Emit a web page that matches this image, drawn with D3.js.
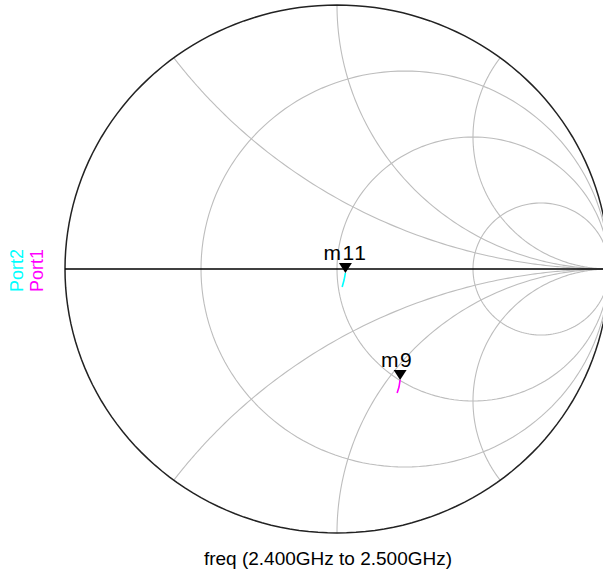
<!DOCTYPE html>
<html>
<head>
<meta charset="utf-8">
<script src="https://cdn.jsdelivr.net/npm/d3@7"></script>
<style>
  body { margin: 0; background: #fff; }
  text { font-family: "Liberation Sans", Arial, sans-serif; }
</style>
</head>
<body>
<script>
// sweep and reflection coefficient
var freqGHz = [2.40, 2.45, 2.50];
var port1Re = [0.232, 0.228, 0.221];
var port1Im = [-0.420, -0.447, -0.470];
var port2Re = [0.031, 0.026, 0.019];
var port2Im = [-0.015, -0.042, -0.068];

// smith grid values
var rGrid = [1 / 3, 1, 3];
var xGrid = [0.5, 1, 2, -0.5, -1, -2];

var markerNames = ["m9", "m11"];
var markerIndex = [0, 0];
var sweepLabel = "freq (2.400GHz to 2.500GHz)";

var w = 603, h = 569;
var cx = 337, cy = 269, rx = 272, ry = 264;

var x = d3.scaleLinear().domain([-1, 1]).range([cx - rx, cx + rx]);
var y = d3.scaleLinear().domain([-1, 1]).range([cy + ry, cy - ry]);

var svg = d3.select("body").append("svg").attr("width", w).attr("height", h);

var line = d3.line().x(function(d){ return x(d[0]); }).y(function(d){ return y(d[1]); });

// gamma from normalized impedance
function gamma(r, xi) {
  var a = r - 1, b = xi, c = r + 1, d = xi;
  var den = c * c + d * d;
  return [(a * c + b * d) / den, (b * c - a * d) / den];
}

var grid = svg.append("g").attr("fill", "none").attr("stroke", "#bdbdbd").attr("stroke-width", 1.1);

// resistance circles
rGrid.forEach(function(r){
  var c0 = r / (1 + r), rad = 1 / (1 + r);
  var pts = d3.range(0, 361, 2).map(function(a){
    var t = a * Math.PI / 180;
    return [c0 + rad * Math.cos(t), rad * Math.sin(t)];
  });
  grid.append("path").attr("d", line(pts));
});

// reactance arcs
xGrid.forEach(function(xi){
  var rs = [0].concat(d3.range(-3, 3.01, 0.02).map(function(e){ return Math.pow(10, e); }));
  var pts = rs.map(function(r){ return gamma(r, xi); });
  grid.append("path").attr("d", line(pts));
});

// outer circle
var outer = d3.range(0, 361, 2).map(function(a){
  var t = a * Math.PI / 180;
  return [Math.cos(t), Math.sin(t)];
});
svg.append("path").attr("d", line(outer))
  .attr("fill", "none").attr("stroke", "#222").attr("stroke-width", 1.5);

// real axis
svg.append("line")
  .attr("x1", x(-1)).attr("x2", x(1))
  .attr("y1", y(0)).attr("y2", y(0))
  .attr("stroke", "#000").attr("stroke-width", 1.5);

// traces
var port1 = port1Re.map(function(d, i){ return [d, port1Im[i]]; });
var port2 = port2Re.map(function(d, i){ return [d, port2Im[i]]; });
var traces = [port1, port2];
var colors = ["#ff00ff", "#00ffff"];

traces.forEach(function(t, i){
  svg.append("path").attr("d", line(t))
    .attr("fill", "none").attr("stroke", colors[i]).attr("stroke-width", 1.6);
});

// markers
var labelDx = [-3, 0];
traces.forEach(function(t, i){
  var p = t[markerIndex[i]];
  var px = x(p[0]), py = y(p[1]);
  svg.append("path")
    .attr("d", "M" + px + "," + py + "L" + (px - 6.5) + "," + (py - 10) + "L" + (px + 6.5) + "," + (py - 10) + "Z")
    .attr("fill", "#000");
  svg.append("text")
    .attr("x", px + labelDx[i]).attr("y", py - 13)
    .attr("text-anchor", "middle")
    .attr("font-size", 21).attr("letter-spacing", 1.5)
    .attr("fill", "#000")
    .text(markerNames[i]);
});

// port legend
var legendNames = ["Port2", "Port1"];
var legendColors = ["#00ffff", "#ff00ff"];
legendNames.forEach(function(n, i){
  svg.append("text")
    .attr("transform", "translate(" + (23 + i * 20) + ",292) rotate(-90)")
    .attr("font-size", 18)
    .attr("fill", legendColors[i])
    .text(n);
});

svg.append("text")
  .attr("x", 328).attr("y", 565)
  .attr("text-anchor", "middle")
  .attr("font-size", 19)
  .attr("fill", "#000")
  .text(sweepLabel);
</script>
</body>
</html>
